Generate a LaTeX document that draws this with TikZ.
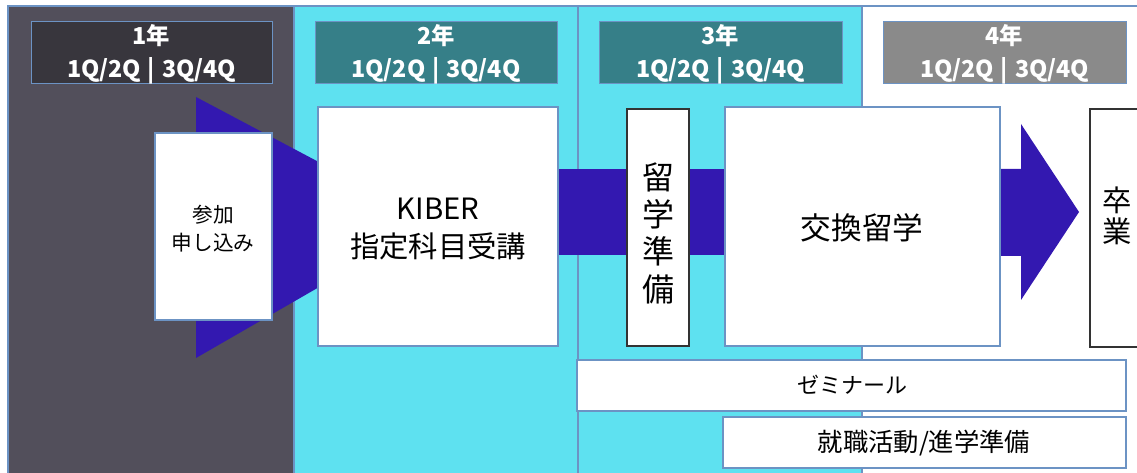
\documentclass[tikz,border=0pt]{standalone}
\usepackage{fontspec}
\setmainfont{Noto Sans CJK JP}
\usetikzlibrary{positioning,fit}
\definecolor{darkbg}{HTML}{524F5B}
\definecolor{hdrdark}{HTML}{38363D}
\definecolor{cyanbg}{HTML}{5EE1F0}
\definecolor{teal}{HTML}{367F88}
\definecolor{hdrgray}{HTML}{8A8A8A}
\definecolor{flowblue}{HTML}{3318B0}
\definecolor{edge}{HTML}{6C93C4}
\newcommand{\qline}{1Q/2Q\hspace{0.3em}|\hspace{0.3em}3Q/4Q}
\begin{document}
\begin{tikzpicture}[x=0.75pt,y=-0.75pt,
  col/.style={draw=edge, line width=0.8pt, inner sep=0pt},
  hdr/.style={draw=edge, line width=0.6pt, inner sep=0pt},
  hdrtext/.style={inner sep=0pt, text=white, align=center,
              font=\bfseries\fontsize{17.5}{24.5}\selectfont},
  box/.style={draw=edge, fill=white, line width=0.8pt, inner sep=0pt},
  dbox/.style={draw=black!80, fill=white, line width=0.8pt, inner sep=0pt},
  lbl/.style={inner sep=0pt, align=center, text=black},
  flow/.style={fill=flowblue}
]
\useasboundingbox (0,0) rectangle (1137,473);
\clip (0,0) rectangle (1137,473);
\fill[white] (0,0) rectangle (1137,473);
% columns
\node[col, fill=darkbg, fit={(8,6) (294,490)}] (c1) {};
\node[col, fill=cyanbg, fit={(294,6) (578,490)}] (c2) {};
\node[col, fill=cyanbg, fit={(578,6) (862,490)}] (c3) {};
\node[col, fill=white, fit={(862,6) (1150,490)}] (c4) {};
% headers
\node[hdr, fill=hdrdark, fit={(31,21) (272,83)}] (h1) {};
\node[hdr, fill=teal, fit={(315,21) (557,83)}] (h2) {};
\node[hdr, fill=teal, fit={(599,21) (842,83)}] (h3) {};
\node[hdr, fill=hdrgray, fit={(883,21) (1126,83)}] (h4) {};
\node[hdrtext] (h1t) at ([yshift=-1.5pt]h1.center) {1年\\\qline};
\node[hdrtext] (h2t) at ([yshift=-1.5pt]h2.center) {2年\\\qline};
\node[hdrtext] (h3t) at ([yshift=-1.5pt]h3.center) {3年\\\qline};
\node[hdrtext] (h4t) at ([yshift=-1.5pt]h4.center) {4年\\\qline};
% flow shapes
\fill[flow] (196,97) -- (196,358) -- (432,222) -- cycle;
\fill[flow] (550,169) rectangle (730,255);
\fill[flow] (995,169) -- (1021,169) -- (1021,124) -- (1079,212) -- (1021,300) -- (1021,256) -- (995,256) -- cycle;
% boxes
\node[box, fit={(155,133) (272,320)}] (apply) {};
\node[lbl, font=\fontsize{15.5}{21}\selectfont] (applyt) at (213,229) {参加\\申し込み};
\node[box, fit={(318,107) (558,346)}] (kiber) {};
\node[lbl, font=\fontsize{22}{28.5}\selectfont] (kibert) at (438,229) {KIBER\\指定科目受講};
\node[dbox, fit={(627,109) (689,346)}] (prep) {};
\node[lbl, font=\fontsize{24}{28}\selectfont] (prept) at (658,233) {留\\学\\準\\備};
\node[box, fit={(725,107) (1000,346)}] (exch) {};
\node[lbl, font=\fontsize{23}{28}\selectfont] (excht) at (862,228) {交換留学};
\node[dbox, fit={(1090,109) (1160,347)}] (grad) {};
\node[lbl, font=\fontsize{22}{23}\selectfont] (gradt) at (1117,216) {卒\\業};
\node[box, fit={(577,360) (1126,411)}] (semi) {};
\node[lbl, font=\fontsize{16.5}{20}\selectfont] (semit) at (852,385) {ゼミナール};
\node[box, fit={(723,417) (1126,468)}] (job) {};
\node[lbl, font=\fontsize{19}{20}\selectfont] (jobt) at (924,443) {就職活動/進学準備};
\end{tikzpicture}
\end{document}
